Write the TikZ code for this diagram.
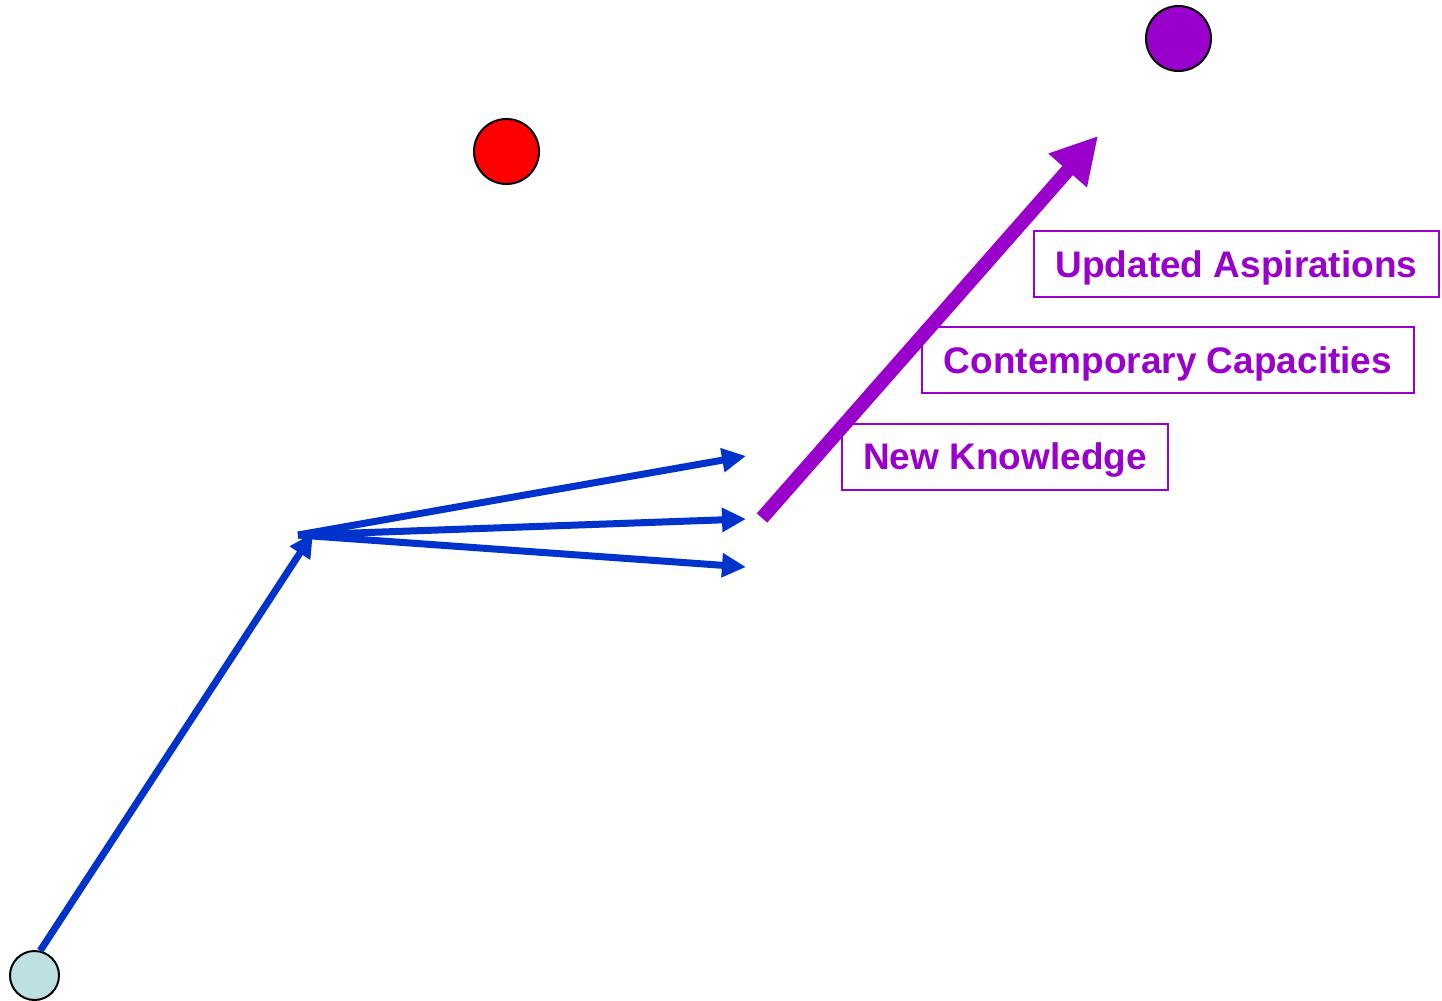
\documentclass[tikz,border=0pt]{standalone}
\usepackage{fontspec}
\setmainfont{Liberation Sans}
\usetikzlibrary{arrows.meta}
\definecolor{myblue}{HTML}{0033CC}
\definecolor{mypurple}{HTML}{9900CC}
\definecolor{mylight}{HTML}{BDE1E2}
\definecolor{myred}{HTML}{FF0000}
\tikzset{
  dot/.style={circle,draw=black,line width=1pt,inner sep=0pt},
  bluearrow/.style={draw=myblue,line width=3.5pt,-{Triangle[length=12pt,width=11.5pt]}},
  purplearrow/.style={draw=mypurple,line width=7pt,-{Triangle[length=23pt,width=24pt]}},
  labelbox/.style={draw=mypurple,line width=1pt,text=mypurple,font=\fontsize{18.5pt}{22pt}\selectfont\bfseries,minimum height=33pt,inner sep=0pt,text height=13.3pt,text depth=0pt}
}
\begin{document}
\begin{tikzpicture}[x=0.5pt,y=-0.5pt]
\useasboundingbox (0,0) rectangle (1442,1001);
% circles
\node[dot,fill=mylight,minimum size=24.5pt] (start) at (34.5,975.5) {};
\node[dot,fill=myred,minimum size=32.5pt] (red) at (506.5,151.5) {};
\node[dot,fill=mypurple,minimum size=32.5pt] (goal) at (1178.5,38.5) {};
% coordinates
\coordinate (hubtip) at (313,533);
\coordinate (hub) at (298,535);
\coordinate (t1) at (746,456);
\coordinate (t2) at (746,519);
\coordinate (t3) at (746,567);
\coordinate (pstart) at (762,518);
\coordinate (ptip) at (1098,136);
% arrows
\draw[bluearrow] (start.77) -- (hubtip);
\draw[bluearrow] (hub) -- (t1);
\draw[bluearrow] (hub) -- (t2);
\draw[bluearrow] (hub) -- (t3);
\draw[purplearrow] (pstart) -- (ptip);
% labels
\node[labelbox,minimum width=202.5pt] (ua) at (1236.5,264) {Updated Aspirations};
\node[labelbox,minimum width=246pt] (cc) at (1168,360) {Contemporary Capacities};
\node[labelbox,minimum width=163pt] (nk) at (1005,456.5) {New Knowledge};
\end{tikzpicture}
\end{document}
